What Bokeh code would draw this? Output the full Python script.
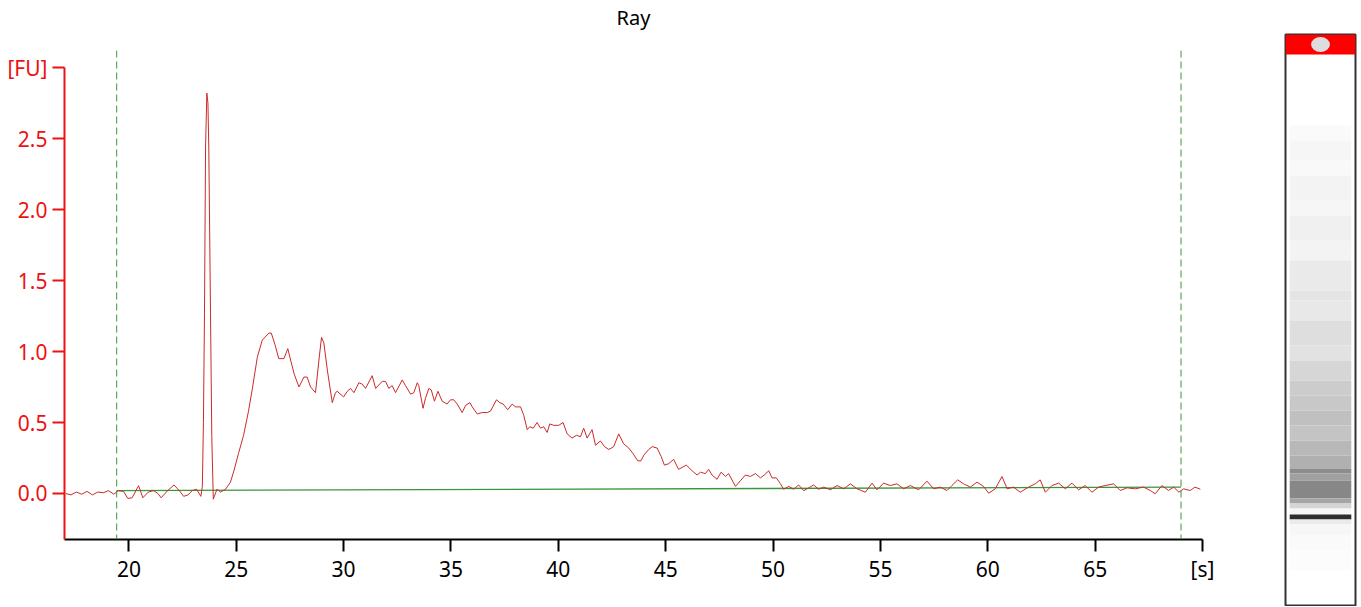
from bokeh.plotting import figure
from bokeh.layouts import row
from bokeh.models import Range1d, FixedTicker, Span, Title
from bokeh.embed import file_html
from bokeh.resources import INLINE

# ---------------- data ----------------
title_text = "Ray"
x_ticks = [20, 25, 30, 35, 40, 45, 50, 55, 60, 65, 70]
x_tick_labels = ["20", "25", "30", "35", "40", "45", "50", "55", "60", "65", "[s]"]
y_ticks = [0.0, 0.5, 1.0, 1.5, 2.0, 2.5, 3.0]
y_tick_labels = ["0.0", "0.5", "1.0", "1.5", "2.0", "2.5", "[FU]"]

trace_t = [17.06, 17.3, 17.55, 17.8, 18.05, 18.3, 18.55, 18.8, 19.05, 19.3, 19.5, 19.75, 19.95, 20.15,
           20.45, 20.65, 20.9, 21.15, 21.35, 21.5, 21.8, 22.1, 22.35, 22.55, 22.75, 22.95, 23.15, 23.35,
           23.42, 23.47, 23.52, 23.57, 23.63, 23.68, 23.72, 23.80, 23.86, 23.93, 23.98, 24.1, 24.27, 24.5,
           24.73, 24.89, 25.1, 25.34, 25.57, 25.74, 25.98, 26.21, 26.52, 26.63, 26.8, 26.98, 27.22, 27.4,
           27.53, 27.7, 27.92, 28.15, 28.3, 28.46, 28.69, 28.85, 28.97, 29.08, 29.24, 29.47, 29.62, 29.7,
           30.0, 30.17, 30.32, 30.48, 30.71, 30.87, 31.02, 31.33, 31.49, 31.8, 31.95, 32.10, 32.26, 32.42,
           32.73, 32.88, 33.12, 33.27, 33.43, 33.5, 33.7, 33.81, 33.97, 34.08, 34.23, 34.39, 34.59, 34.82,
           34.98, 35.13, 35.29, 35.52, 35.68, 35.88, 35.99, 36.22, 36.45, 36.69, 36.84, 37.12, 37.27, 37.43,
           37.64, 37.85, 38.0, 38.24, 38.39, 38.55, 38.67, 38.83, 39.01, 39.17, 39.32, 39.48, 39.6, 39.79,
           40.02, 40.22, 40.41, 40.64, 40.84, 41.03, 41.18, 41.34, 41.57, 41.73, 41.96, 42.15, 42.35, 42.58,
           42.81, 43.04, 43.28, 43.48, 43.7, 43.85, 43.98, 44.21, 44.37, 44.6, 44.79, 44.94, 45.14, 45.37,
           45.6, 45.96, 46.23, 46.46, 46.62, 46.85, 47.0, 47.16, 47.39, 47.58, 47.78, 47.93, 48.25, 48.48,
           48.71, 48.94, 49.18, 49.41, 49.59, 49.8, 49.95, 50.15, 50.34, 50.49, 50.73, 50.96, 51.19, 51.43,
           51.66, 51.89, 52.12, 52.36, 52.67, 52.98, 53.29, 53.6, 53.91, 54.3, 54.61, 54.84, 55.15, 55.46,
           55.77, 56.08, 56.39, 56.78, 57.17, 57.48, 57.79, 58.1, 58.33, 58.6, 58.87, 59.19, 59.5, 59.81,
           60.04, 60.35, 60.66, 60.9, 61.2, 61.51, 61.9, 62.21, 62.44, 62.68, 62.99, 63.3, 63.61, 63.92,
           64.23, 64.54, 64.85, 65.16, 65.47, 65.86, 66.17, 66.48, 66.87, 67.25, 67.57, 67.8, 68.11, 68.42,
           68.66, 68.9, 69.12, 69.43, 69.65, 69.9]
trace_fu = [0.00, -0.01, 0.01, -0.005, 0.015, -0.01, 0.01, 0.005, 0.02, -0.005, 0.02, 0.015, -0.035, -0.03,
            0.055, -0.03, 0.01, 0.02, 0.0, -0.03, 0.02, 0.06, 0.02, -0.02, -0.01, 0.02, 0.03, -0.02,
            0.05, 0.5, 1.27, 2.44, 2.82, 2.75, 2.44, 1.27, 0.4, -0.04, -0.02, 0.03, 0.01, 0.03,
            0.08, 0.16, 0.28, 0.41, 0.58, 0.73, 0.96, 1.08, 1.13, 1.13, 1.05, 0.95, 0.95, 1.02,
            0.94, 0.84, 0.75, 0.82, 0.82, 0.75, 0.71, 0.94, 1.10, 1.06, 0.87, 0.64, 0.71, 0.72,
            0.68, 0.72, 0.74, 0.71, 0.78, 0.77, 0.74, 0.83, 0.74, 0.79, 0.79, 0.74, 0.76, 0.71,
            0.80, 0.76, 0.70, 0.71, 0.78, 0.76, 0.60, 0.67, 0.74, 0.73, 0.65, 0.72, 0.65, 0.63,
            0.66, 0.66, 0.63, 0.57, 0.62, 0.64, 0.61, 0.56, 0.57, 0.57, 0.58, 0.66, 0.64, 0.63,
            0.59, 0.63, 0.61, 0.61, 0.55, 0.45, 0.47, 0.46, 0.50, 0.46, 0.47, 0.43, 0.49, 0.48,
            0.48, 0.50, 0.42, 0.39, 0.41, 0.40, 0.46, 0.39, 0.45, 0.34, 0.37, 0.33, 0.31, 0.33,
            0.42, 0.35, 0.32, 0.28, 0.23, 0.23, 0.27, 0.31, 0.33, 0.32, 0.26, 0.20, 0.21, 0.24,
            0.17, 0.20, 0.16, 0.13, 0.15, 0.14, 0.17, 0.13, 0.10, 0.15, 0.12, 0.14, 0.05, 0.09,
            0.13, 0.12, 0.14, 0.11, 0.13, 0.16, 0.11, 0.11, 0.07, 0.03, 0.05, 0.03, 0.06, 0.02,
            0.04, 0.06, 0.03, 0.045, 0.026, 0.056, 0.033, 0.068, 0.033, 0.009, 0.073, 0.026, 0.073, 0.056,
            0.068, 0.033, 0.056, 0.026, 0.087, 0.033, 0.045, 0.021, 0.056, 0.096, 0.068, 0.045, 0.080, 0.049,
            0.002, 0.033, 0.120, 0.033, 0.045, 0.009, 0.045, 0.068, 0.096, 0.009, 0.056, 0.073, 0.033, 0.073,
            0.026, 0.056, 0.009, 0.045, 0.056, 0.068, 0.021, 0.040, 0.033, 0.045, 0.021, -0.002, 0.056, 0.021,
            0.045, 0.009, 0.033, 0.021, 0.045, 0.03]

baseline_t = [19.43, 69.0]
baseline_fu = [0.02, 0.045]
marker_bounds = [19.43, 69.0]

# gel lane: band edges (rows from top of lane box) and grey levels
gel_edges = [91, 106, 126, 141, 166, 181, 206, 226, 256, 266, 286, 311, 326, 346, 361, 376, 391, 406,
             421, 434, 439, 446, 464, 469, 474, 480, 485, 490, 501, 516, 536]
gel_grey = [250, 246, 249, 243, 246, 240, 243, 234, 228, 232, 222, 226, 214, 204, 200, 192, 196, 184,
            176, 140, 160, 135, 165, 212, 245, 45, 235, 247, 250, 252]
gel_top_band = [0, 20]

# ---------------- main electropherogram ----------------
FONT = "Noto Sans"
RED = "#ee1111"

p = figure(width=1270, height=606, output_backend="svg", toolbar_location=None, title=None,
           x_range=Range1d(17, 70), y_range=Range1d(-0.324, 3.12),
           min_border_left=64, min_border_right=68, min_border_top=50, min_border_bottom=67)
p.frame_align = False
# spacer title (closest to the frame), then the real title above it
p.add_layout(Title(text=" ", text_font=FONT, text_font_size="10px", standoff=0), "above")
p.add_layout(Title(text=title_text, align="center", vertical_align="top", standoff=4,
                   text_font=FONT, text_font_size="20px", text_font_style="normal",
                   text_color="#000000"), "above")
p.outline_line_color = None
p.grid.visible = False
p.background_fill_color = "white"
p.border_fill_color = "white"

xa = p.xaxis[0]
xa.ticker = FixedTicker(ticks=x_ticks)
xa.major_label_overrides = {float(t): l for t, l in zip(x_ticks, x_tick_labels)}
xa.axis_line_color = "black"
xa.axis_line_width = 2
xa.major_tick_line_color = "black"
xa.major_tick_line_width = 2
xa.major_tick_out = 12
xa.major_tick_in = 0
xa.minor_tick_line_color = None
xa.major_label_text_font = FONT
xa.major_label_text_font_size = "21px"
xa.major_label_text_color = "black"
xa.major_label_standoff = 3

ya = p.yaxis[0]
ya.ticker = FixedTicker(ticks=y_ticks)
ya.major_label_overrides = {float(t): l for t, l in zip(y_ticks, y_tick_labels)}
ya.bounds = (-0.324, 3.0)
ya.axis_line_color = RED
ya.axis_line_width = 2
ya.major_tick_line_color = RED
ya.major_tick_line_width = 2
ya.major_tick_out = 12
ya.major_tick_in = 0
ya.minor_tick_line_color = None
ya.major_label_text_font = FONT
ya.major_label_text_font_size = "21px"
ya.major_label_text_color = RED
ya.major_label_standoff = 5

for loc in marker_bounds:
    p.add_layout(Span(location=loc, dimension="height", line_color="#3a963a",
                      line_width=1, line_dash="7 4"))

p.line(baseline_t, baseline_fu, line_color="#3a963a", line_width=1.3)
p.line(trace_t, trace_fu, line_color="#cc2a2a", line_width=1)

# ---------------- gel lane ----------------
g = figure(width=89, height=606, output_backend="svg", toolbar_location=None,
           x_range=Range1d(0, 1), y_range=Range1d(571, 0),
           min_border_left=15, min_border_right=4, min_border_top=34, min_border_bottom=1)
g.frame_align = False
g.axis.visible = False
g.grid.visible = False
g.outline_line_color = "#333333"
g.outline_line_width = 2
g.background_fill_color = "white"
g.border_fill_color = "white"

greys = ["#%02x%02x%02x" % (v, v, v) for v in gel_grey]
g.quad(left=0.06, right=0.94, top=gel_edges[:-1], bottom=gel_edges[1:],
       fill_color=greys, line_color=None)
g.quad(left=0, right=1, top=gel_top_band[0], bottom=gel_top_band[1],
       fill_color="#ff0000", line_color=None)
g.ellipse(x=0.5, y=(gel_top_band[0] + gel_top_band[1]) / 2, width=0.27, height=15,
          fill_color="#dddddd", line_color=None)

layout = row(p, g)
open("out.html", "w").write(file_html(layout, INLINE))
